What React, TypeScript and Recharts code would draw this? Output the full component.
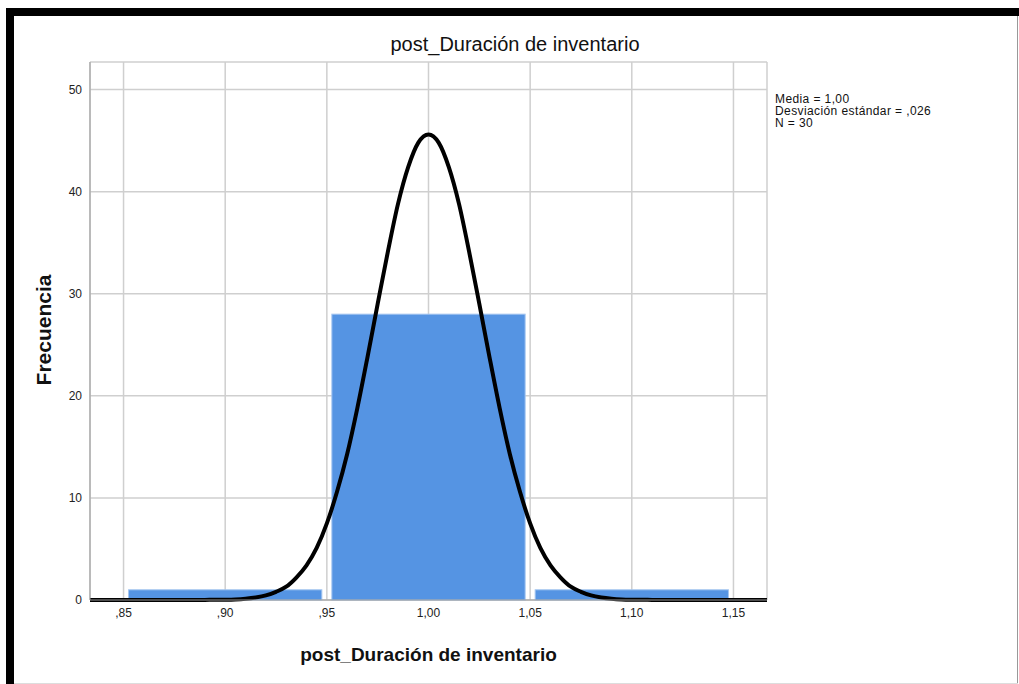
import { ComposedChart, Line, XAxis, YAxis, CartesianGrid, ReferenceArea } from 'recharts'

// histogram bins
const binStarts = [0.85, 0.95, 1.05]
const binEnds = [0.95, 1.05, 1.15]
const counts = [1, 28, 1]

// normal curve
const curveX = [
  0.8335, 0.84, 0.85, 0.86, 0.87, 0.88, 0.89, 0.9, 0.905, 0.91, 0.915, 0.92, 0.925, 0.93, 0.935, 0.94, 0.945,
  0.95, 0.955, 0.96, 0.965, 0.97, 0.975, 0.98, 0.985, 0.99, 0.995, 1.0, 1.005, 1.01, 1.015, 1.02, 1.025, 1.03,
  1.035, 1.04, 1.045, 1.05, 1.055, 1.06, 1.065, 1.07, 1.075, 1.08, 1.085, 1.09, 1.095, 1.1, 1.11, 1.12, 1.13,
  1.14, 1.15, 1.16, 1.1665,
]
const curveY = [
  0, 0, 0, 0, 0, 0, 0.01, 0.03, 0.06, 0.13, 0.25, 0.45, 0.8, 1.3, 2.2, 3.4, 5.1,
  7.5, 10.6, 14.3, 18.8, 23.8, 29.0, 34.1, 38.8, 42.4, 44.8, 45.6, 44.8, 42.4, 38.8, 34.1, 29.0, 23.8,
  18.8, 14.3, 10.6, 7.5, 5.1, 3.4, 2.2, 1.3, 0.8, 0.45, 0.25, 0.13, 0.06, 0.03, 0.01, 0, 0,
  0, 0, 0, 0,
]

const xTicks = [0.85, 0.9, 0.95, 1.0, 1.05, 1.1, 1.15]
const yTicks = [0, 10, 20, 30, 40, 50]
const statsLines = ['Media = 1,00', 'Desviación estándar = ,026', 'N = 30']

const FONT = '"Liberation Sans", Arial, sans-serif'

const curveData = curveX.map((x, i) => ({ x, y: curveY[i] }))
const fmtX = (v: number) => v.toFixed(2).replace('.', ',').replace(/^0/, '')

function BarShape(props: any) {
  const { x, y, width, height } = props
  return (
    <rect x={x + 5} y={y} width={width - 10} height={height} fill="#5594e3" stroke="#a5c6f0" strokeWidth={1} />
  )
}

export default function App() {
  return (
    <div style={{ position: 'absolute', left: 0, top: 0, width: 1019, height: 684, background: '#fff', fontFamily: FONT }}>
      <ComposedChart width={1019} height={684} margin={{ top: 62, right: 252, bottom: 54, left: 40 }}>
        <CartesianGrid stroke="#cfcfcf" strokeWidth={1.5} />
        <XAxis
          type="number"
          dataKey="x"
          domain={[0.8335, 1.1665]}
          ticks={xTicks}
          tickFormatter={fmtX}
          tickLine={false}
          axisLine={{ stroke: '#999' }}
          tick={{ fill: '#222', fontSize: 12, fontFamily: FONT }}
          height={30}
        />
        <YAxis
          type="number"
          domain={[0, 52.7]}
          ticks={yTicks}
          tickLine={false}
          axisLine={{ stroke: '#999' }}
          tick={{ fill: '#222', fontSize: 12, fontFamily: FONT }}
          width={50}
        />
        {counts.map((c, i) => (
          <ReferenceArea
            key={i}
            x1={binStarts[i]}
            x2={binEnds[i]}
            y1={0}
            y2={c}
            ifOverflow="visible"
            shape={BarShape}
          />
        ))}
        <Line
          data={curveData}
          dataKey="y"
          type="monotone"
          stroke="#000"
          strokeWidth={4}
          dot={false}
          activeDot={false}
          isAnimationActive={false}
        />
      </ComposedChart>

      <div style={{ position: 'absolute', left: 0, width: 1030, top: 33, textAlign: 'center', fontSize: 20, color: '#111' }}>
        post_Duración de inventario
      </div>
      <div style={{ position: 'absolute', left: 775, top: 93, fontSize: 12, lineHeight: '12px', letterSpacing: 0.4, color: '#111' }}>
        {statsLines.map((s) => (
          <div key={s}>{s}</div>
        ))}
      </div>
      <div style={{ position: 'absolute', left: 90, width: 677, top: 644, textAlign: 'center', fontSize: 19, fontWeight: 'bold', color: '#111' }}>
        post_Duración de inventario
      </div>
      <div
        style={{
          position: 'absolute',
          left: 44,
          top: 330,
          transform: 'translate(-50%, -50%) rotate(-90deg)',
          fontSize: 21,
          fontWeight: 'bold',
          color: '#111',
          whiteSpace: 'nowrap',
        }}
      >
        Frecuencia
      </div>

      {/* frame */}
      <div style={{ position: 'absolute', left: 6, top: 8, width: 1013, height: 8, background: '#000' }} />
      <div style={{ position: 'absolute', left: 6, top: 8, width: 8, height: 676, background: '#000' }} />
      <div style={{ position: 'absolute', left: 1017, top: 16, width: 1, height: 668, background: '#999' }} />
      <div style={{ position: 'absolute', left: 14, top: 683, width: 1004, height: 1, background: '#ddd' }} />
    </div>
  )
}
